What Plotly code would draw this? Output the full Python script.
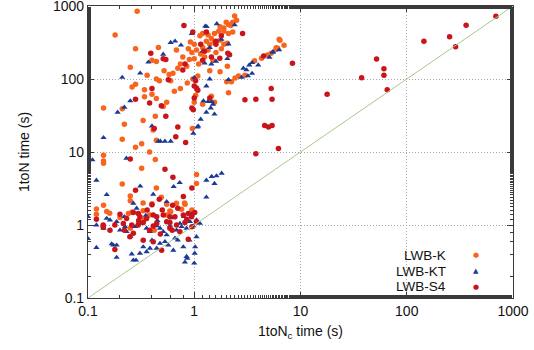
import plotly.graph_objects as go

# ---------------- data ----------------
K_x = [0.29, 0.18, 0.28, 0.46, 0.25, 0.36, 0.28, 0.26, 0.34, 0.40, 0.34, 0.44, 0.51, 0.21, 0.14,
       0.43, 0.33, 0.22, 0.41, 0.21, 0.32, 0.28, 0.44, 0.38, 0.14, 0.14, 0.44, 0.40, 0.44, 0.47,
       0.60, 0.63, 0.70, 0.74, 0.85, 0.74, 0.86, 0.97, 1.08, 1.00, 1.03, 0.96, 0.55, 0.65, 0.78,
       0.90, 0.95, 0.88, 1.00, 0.92, 0.58, 0.52, 0.68,
       1.13, 1.20, 1.35, 1.45, 1.55, 1.70, 1.90, 2.10, 2.30, 1.30, 1.40, 1.55, 1.75, 1.90, 2.05,
       1.20, 1.35, 1.60, 1.80, 1.05, 1.15, 1.25, 1.50, 1.00, 1.10, 1.90, 2.10, 2.30, 2.40, 2.50,
       2.20, 1.75, 2.00, 1.75, 2.05, 1.40, 2.10, 1.55, 1.45, 1.20,
       2.02, 2.24, 2.42, 2.61, 3.00, 3.70, 4.30, 4.90, 5.30, 5.90, 6.10, 6.40, 7.00, 6.30, 5.90,
       0.21, 0.25, 0.25, 0.33, 0.40, 0.49, 0.55, 0.68, 0.82, 0.95, 0.12, 0.14, 0.12, 0.15, 0.16,
       0.20, 0.24, 0.26, 0.33, 0.38, 0.55, 0.60, 0.76, 0.30, 0.34, 0.25, 0.42, 0.14, 0.32, 0.43,
       0.44, 0.81, 0.59, 1.05, 1.05]
K_y = [850, 400, 260, 270, 145, 113, 85, 78, 71, 62, 57, 54, 42, 39, 40,
       31, 27, 24, 20, 15, 13, 11.6, 14.5, 10, 9, 7.5, 173, 180, 100, 95,
       95, 120, 140, 160, 150, 74, 88, 100, 110, 48, 60, 21, 48, 68, 200,
       185, 230, 260, 300, 320, 115, 130, 250,
       390, 420, 400, 360, 420, 450, 450, 420, 440, 330, 300, 320, 340, 300, 310,
       270, 250, 230, 260, 250, 220, 200, 180, 190, 160, 500, 560, 600, 730, 640,
       540, 520, 600, 126, 150, 130, 65, 48, 58, 45,
       92, 92, 103, 110, 113, 178, 192, 213, 225, 255, 263, 340, 290, 350, 268,
       3.65, 2.15, 2.5, 2.0, 1.96, 2.4, 1.92, 1.98, 1.92, 1.6, 1.66, 1.87, 1.4, 1.53, 1.45,
       1.27, 1.44, 1.51, 1.57, 1.37, 1.37, 1.52, 1.64, 1.1, 1.2, 0.9, 0.85, 7.0, 6.0, 7.9,
       3.2, 2.0, 1.55, 3.7, 4.9]

KT_x = [1.27, 1.31, 1.63, 2.40, 0.66, 0.60, 0.75, 0.37, 0.51, 0.31, 0.21, 0.25, 0.22, 0.19, 0.40,
        0.46, 0.53, 0.14, 0.11, 0.23, 0.98, 1.07, 1.00, 1.40, 1.30, 1.22, 1.50, 1.30, 1.55, 1.15,
        1.45, 1.60, 1.20, 1.40, 1.80, 2.10, 1.25, 0.95, 2.05, 0.48, 0.60, 1.09, 1.46, 1.35, 1.43,
        2.10, 2.79, 3.20, 3.50, 2.90, 3.10, 3.30, 3.50, 4.00, 5.10, 5.50, 5.50, 6.30,
        0.12, 0.15, 0.31, 0.64, 0.73, 1.30, 1.46, 1.62, 1.81, 1.55, 1.30, 0.10, 0.10, 0.12, 0.167,
        0.173, 0.186, 0.186, 0.258, 0.267, 0.283, 0.308, 0.331, 0.356, 0.383, 0.443, 0.476, 0.53, 0.57, 0.635,
        0.789, 0.817, 0.847, 0.859, 1.00, 1.01, 1.02, 1.05, 0.15, 0.161, 0.186, 0.20, 0.223, 0.231, 0.277,
        0.308, 0.356, 0.383, 0.443, 0.476, 0.511, 0.55, 0.59, 0.682, 0.76, 0.847, 0.911, 0.979, 1.05, 1.13,
        0.287, 0.267, 0.411, 0.55, 0.733, 0.658, 0.14, 0.22, 0.35, 0.45, 0.62, 0.80, 0.95, 0.25, 0.12,
        0.40, 0.70, 0.90]
KT_y = [530, 520, 570, 550, 330, 315, 290, 170, 218, 120, 105, 50, 41, 35, 22.7,
        14, 14, 15.7, 7.8, 8.2, 18, 22, 104, 100, 80, 50, 45, 35, 33, 28,
        160, 175, 240, 270, 350, 300, 165, 420, 190, 14, 14, 22.6, 49, 49, 40,
        98, 105, 110, 119, 140, 133, 155, 167, 155, 198, 237, 232, 250,
        4.1, 2.6, 3.4, 3.35, 3.8, 4.1, 4.6, 4.7, 5.1, 3.7, 2.4, 1.3, 0.65, 0.49, 0.55,
        0.53, 0.53, 0.36, 0.40, 0.33, 0.33, 0.41, 0.50, 0.43, 0.48, 0.48, 0.56, 0.59, 0.53, 0.45,
        0.50, 0.31, 0.37, 0.35, 0.30, 0.41, 0.50, 0.69, 1.23, 1.17, 1.11, 0.85, 0.95, 0.81, 0.95,
        1.05, 0.90, 0.81, 0.97, 0.90, 0.81, 0.73, 0.97, 0.85, 0.95, 0.90, 1.11, 0.97, 1.17, 1.05,
        1.69, 1.98, 2.63, 2.09, 1.05, 0.66, 0.90, 1.30, 1.35, 1.15, 1.25, 1.30, 1.40, 0.70, 1.00,
        0.62, 0.62, 0.62]

S4_x = [0.80, 0.97, 2.85, 0.39, 0.51, 0.54, 0.57, 0.82, 0.78, 0.40, 0.38, 0.28, 0.49, 0.54, 0.42,
        0.67, 0.70, 0.83, 0.95, 0.98, 1.00, 1.05, 1.08, 1.03, 0.10, 1.15, 1.30, 1.60, 1.45, 1.25,
        1.20, 2.15, 1.80, 1.60, 1.40, 2.07, 1.74, 1.00,
        4.5, 8.4, 5.3, 5.4, 3.8, 3.0, 4.6, 5.0, 5.4, 6.2, 3.8, 17.8, 37.6, 52, 61, 61, 65.5,
        145, 253, 288, 362, 690,
        0.79, 0.626, 0.469, 0.231, 0.267, 0.297, 0.308, 0.356, 0.411, 0.443, 0.511, 0.59, 0.658, 0.789, 0.879,
        1.01, 1.05, 0.817, 0.682, 0.59, 0.55, 0.443, 0.411, 0.331, 0.297, 0.258, 0.215, 0.179, 0.139, 0.139,
        0.161, 0.248, 0.267, 0.331, 0.411, 0.493, 0.59, 0.733, 0.879, 0.179, 0.944, 0.20, 0.36, 0.50, 0.70,
        0.30, 0.38, 0.48, 0.62, 0.85, 0.12, 0.22, 0.95, 0.40, 0.28, 0.53, 0.63, 0.95, 0.25]
S4_y = [540, 440, 420, 225, 190, 185, 98, 160, 133, 74, 47, 53, 43, 31, 21,
        16.2, 22, 13.5, 40, 38, 80, 75, 70, 95, 11.2, 300, 440, 330, 200, 240,
        180, 215, 390, 300, 55, 225, 192, 55,
        207, 164, 74, 53, 53, 52, 23, 22, 23, 11.2, 9.5, 62, 104, 188, 138, 113, 71,
        328, 380, 277, 543, 722,
        2.45, 1.87, 2.25, 1.23, 1.48, 1.44, 1.30, 1.23, 1.37, 1.30, 1.37, 1.30, 1.30, 1.37, 1.44,
        1.48, 1.11, 1.08, 1.00, 1.08, 1.11, 1.05, 0.97, 1.08, 1.00, 1.00, 1.05, 1.00, 1.00, 0.93,
        0.85, 0.69, 0.77, 0.62, 0.59, 0.45, 0.90, 0.81, 0.64, 0.46, 1.30, 1.40, 1.60, 1.60, 1.70,
        1.15, 0.85, 0.75, 0.85, 1.20, 1.20, 0.85, 0.95, 1.90, 3.0, 5.8, 4.5, 3.2, 8.0]

diag = [0.1, 1000]
tick_vals = [0.1, 1, 10, 100, 1000]
tick_text = ["0.1", "1", "10", "100", "1000"]
series_names = ["LWB-K", "LWB-KT", "LWB-S4"]
series_symbols = ["●", "▲", "●"]

C_K = "#F8641E"
C_KT = "#1B3A94"
C_S4 = "#C8141A"
colors = [C_K, C_KT, C_S4]
FRAME = "#3A3A3A"

fig = go.Figure()
# diagonal y = x drawn on the mirror axes (gives them content)
fig.add_trace(go.Scatter(x=diag, y=diag, mode="lines", showlegend=False, xaxis="x2", yaxis="y2",
                         line=dict(color="#A8C890", width=1), hoverinfo="skip"))
fig.add_trace(go.Scatter(x=K_x, y=K_y, mode="markers", name=series_names[0], showlegend=False,
                         marker=dict(symbol="circle", size=5.5, color=C_K)))
fig.add_trace(go.Scatter(x=KT_x, y=KT_y, mode="markers", name=series_names[1], showlegend=False,
                         marker=dict(symbol="triangle-up", size=5.5, color=C_KT)))
fig.add_trace(go.Scatter(x=S4_x, y=S4_y, mode="markers", name=series_names[2], showlegend=False,
                         marker=dict(symbol="circle", size=5.5, color=C_S4)))

tick_common = dict(
    type="log", range=[-1, 3], showline=True, linecolor=FRAME, linewidth=1.2,
    ticks="inside", ticklen=6, tickcolor=FRAME, tickwidth=1,
    zeroline=False, tickvals=tick_vals, ticktext=tick_text, automargin=False,
    minor=dict(ticks="inside", ticklen=3, tickcolor=FRAME, showgrid=False),
    tickfont=dict(size=14, color="#111"), ticklabeloverflow="allow",
)

# legend drawn as text: label right-aligned, symbol to its right (as in the reference)
legend_rows = [0.147, 0.092, 0.038]
annotations = []
for name, sym, col, yr in zip(series_names, series_symbols, colors, legend_rows):
    annotations.append(dict(xref="paper", yref="paper", x=0.845, y=yr, xanchor="right",
                            yanchor="middle", text=name, showarrow=False, borderpad=0,
                            font=dict(size=13.5, color="#111")))
    annotations.append(dict(xref="paper", yref="paper", x=0.913, y=yr, xanchor="center",
                            yanchor="middle", text=sym, showarrow=False, borderpad=0,
                            font=dict(size=7, color=col, family="DejaVu Sans")))

fig.update_layout(
    width=534, height=350,
    margin=dict(l=88, r=21, t=6, b=52),
    paper_bgcolor="white", plot_bgcolor="white",
    font=dict(family="Liberation Sans, Arial, sans-serif", size=14, color="#111"),
    xaxis=dict(**tick_common, showgrid=True, gridcolor="#A8A8A8", griddash="1px,2px", gridwidth=1,
               title=dict(text="1toN<sub>c</sub> time (s)", standoff=8,
                          font=dict(size=14, color="#111"))),
    yaxis=dict(**tick_common, showgrid=True, gridcolor="#A8A8A8", griddash="1px,2px", gridwidth=1,
               title=dict(text="1toN time (s)", standoff=20,
                          font=dict(size=14, color="#111"))),
    xaxis2=dict(**tick_common, overlaying="x", side="top", showgrid=False, showticklabels=False),
    yaxis2=dict(**tick_common, overlaying="y", side="right", showgrid=False, showticklabels=False),
    annotations=annotations,
    showlegend=False,
)

fig.write_html("out.html", config={"displayModeBar": False},
               post_script="document.body.style.margin='0px';")
